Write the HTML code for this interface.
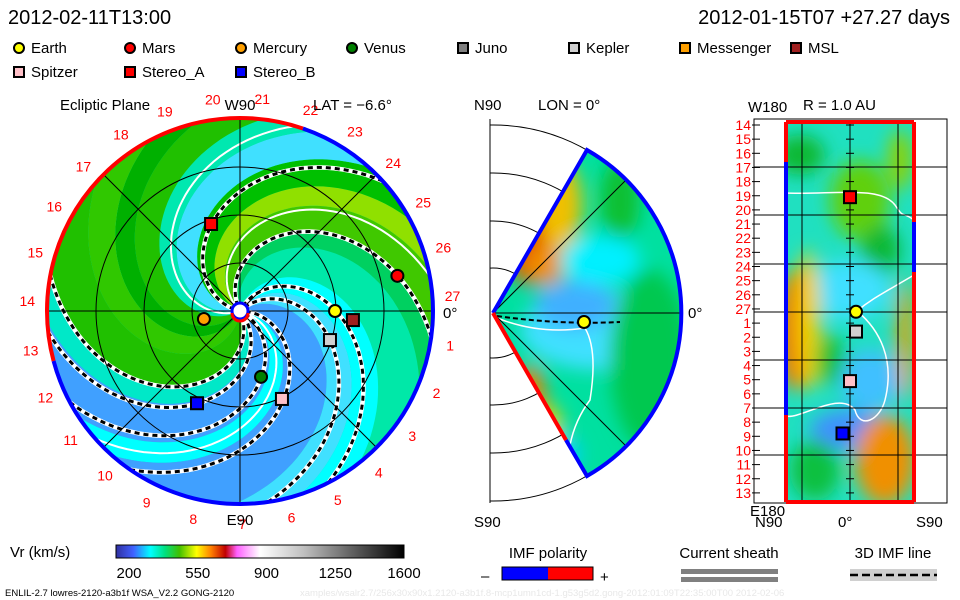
<!DOCTYPE html>
<html><head><meta charset="utf-8"><style>
html,body{margin:0;padding:0;background:#fff;width:960px;height:600px;overflow:hidden}
svg{display:block;font-family:"Liberation Sans",sans-serif}
</style></head><body>
<svg id="s" width="960" height="600" viewBox="0 0 960 600">
<defs>
<clipPath id="cc"><circle cx="240" cy="311" r="193"/></clipPath>
<clipPath id="wc"><path d="M493,313 L587,150 A188,188 0 0 1 587,476 Z"/></clipPath>
<clipPath id="rc"><rect x="786" y="122" width="128" height="380"/></clipPath>
<clipPath id="bx"><rect x="490" y="119" width="300" height="384"/></clipPath>
<filter id="bl" x="-50%" y="-50%" width="200%" height="200%"><feGaussianBlur stdDeviation="9"/></filter>
</defs>
<g font-size="20" fill="#000">
<text x="8" y="24">2012-02-11T13:00</text>
<text x="950" y="24" text-anchor="end">2012-01-15T07 +27.27 days</text>
</g>
<g id="legend" font-size="15"></g>
<g id="left"></g>
<g id="mid"></g>
<g id="right"></g>
<g id="bottom"></g>
</svg>
<script>
// ---- data ----
const bodyNames=["Earth","Mars","Mercury","Venus","Juno","Kepler","Messenger","MSL","Spitzer","Stereo_A","Stereo_B"];
const bodyColors=["#ffff00","#ff0000","#ffa000","#008000","#808080","#d0d0d0","#ffa000","#a02020","#ffc0c8","#ff0000","#0000ff"];
const bodyShapes=["c","c","c","c","s","s","s","s","s","s","s"];
const bodyR=[0.99,1.68,0.385,0.72,null,0.985,null,1.18,1.015,0.955,1.06];
const bodyLon=[0,12.6,192.5,-72.3,null,-17.9,null,-4.6,-64.5,108.4,-115];
const bandStart=[-20,10,25,45,60,80,100,115,135,150,170,200,215,245,260,300,320];
const bandEnd=[10,25,45,60,80,100,115,135,150,170,200,215,245,260,300,320,340];
const bandColor=["#00e8a8","#00d060","#40c800","#90e000","#00c000","#40e0ff","#00e8b0","#20c000","#00b000","#30c800","#20c000","#00e8c8","#40a0ff","#00ffff","#40a0ff","#40e0ff","#00ffff"];
const dashedSpirals=[62,117,167,-49,43,0,-27,-66];
const whiteSpirals=[135,198,-14];
const lonLabels=[1,2,3,4,5,6,7,8,9,10,11,12,13,14,15,16,17,18,19,20,21,22,23,24,25,26,27];
const cbTicks=[200,550,900,1250,1600];
const sideBodies=[9,0,5,8,10];
const sideLat=[0,2,2,0,-2.5];
const sideDay=[19.1,27.2,1.6,5.1,8.8];

const NS="http://www.w3.org/2000/svg";
function mk(tag,attrs,parent,text){const e=document.createElementNS(NS,tag);for(const k in attrs)e.setAttribute(k,attrs[k]);if(text!==undefined)e.textContent=text;parent.appendChild(e);return e;}
const cx=240,cy=311,S=96,R=193,OM=62;
function P(r,a){const t=a*Math.PI/180;return [cx+r*S*Math.cos(t),cy-r*S*Math.sin(t)];}
function marker(g,shape,x,y,col){
  if(shape==="c") return mk("circle",{cx:x,cy:y,r:6,fill:col,stroke:"#000","stroke-width":2},g);
  return mk("rect",{x:x-6,y:y-6,width:12,height:12,fill:col,stroke:"#000","stroke-width":2},g);
}

// legend
const lg=document.getElementById("legend");
bodyNames.forEach((n,i)=>{
  const row=i<8?0:1,col=i<8?i:i-8;
  const x=19+col*111,y=48+row*24;
  const m=marker(lg,bodyShapes[i],x,y,bodyColors[i]);
  if(bodyShapes[i]==="c")m.setAttribute("r",5);else{m.setAttribute("x",x-5);m.setAttribute("y",y-5);m.setAttribute("width",10);m.setAttribute("height",10);}
  
  
  const t=mk("text",{x:x+12,y:y+5},lg,n);
  
  
});

// left panel
const L=document.getElementById("left");
const cg=mk("g",{"clip-path":"url(#cc)"},L);
mk("circle",{cx:cx,cy:cy,r:R,fill:"#00e8b0"},cg);
function spiralPts(a0,r0,r1,atRef){const pts=[];for(let r=r0;r<=r1+1e-9;r+=0.04){pts.push(P(r,a0+OM*(atRef-r)));}return pts;}
bandStart.forEach((a,i)=>{
  const p1=spiralPts(a,0,2.2,1.5),p2=spiralPts(bandEnd[i],0,2.2,1.5).reverse();
  const d="M"+p1.concat(p2).map(p=>p[0].toFixed(1)+","+p[1].toFixed(1)).join("L")+"Z";
  const e=mk("path",{d:d,fill:bandColor[i]},cg);
  
  
});
function spiralD(a0){return "M"+spiralPts(a0,0.06,2.1,0).map(p=>p[0].toFixed(1)+","+p[1].toFixed(1)).join("L");}
whiteSpirals.forEach(a=>{const e=mk("path",{d:spiralD(a),fill:"none",stroke:"#fff","stroke-width":2},cg);
  });
dashedSpirals.forEach(a=>{
  mk("path",{d:spiralD(a),fill:"none",stroke:"#fff","stroke-width":4.5},cg);
  const e=mk("path",{d:spiralD(a),fill:"none",stroke:"#000","stroke-width":3,"stroke-dasharray":"5,4"},cg);
  
});
// grid
[0.5,1,1.5].forEach(r=>mk("circle",{cx:cx,cy:cy,r:r*S,fill:"none",stroke:"#000","stroke-width":1},cg));
[0,45,90,135].forEach(a=>{const p=P(2.05,a),q=P(2.05,a+180);mk("line",{x1:p[0],y1:p[1],x2:q[0],y2:q[1],stroke:"#000","stroke-width":1},cg);});
// rim
function arc(a1,a2,col){const p=P(R/S,a1),q=P(R/S,a2);const large=(a2-a1)>180?1:0;
  return mk("path",{d:`M${p[0]},${p[1]} A${R},${R} 0 ${large} 0 ${q[0]},${q[1]}`,fill:"none",stroke:col,"stroke-width":4},L);}
arc(-165,71,"#0000ff");
arc(71,195,"#ff0000");
// sun
mk("circle",{cx:cx,cy:cy,r:8,fill:"#fff",stroke:"#0000ff","stroke-width":3},L);
mk("path",{d:`M${cx-8},${cy+2} A8,8 0 0 0 ${cx+8},${cy+2}`,fill:"none",stroke:"#ff0000","stroke-width":3},L);
// lon labels
lonLabels.forEach(n=>{const a=4-n*360/27;const p=P(213/S,a);
  const t=mk("text",{x:p[0],y:p[1]+5,"text-anchor":"middle","font-size":14,fill:"#ff0000"},L,String(n));
  });
mk("text",{x:443,y:318,"font-size":15},L,"0°");
mk("text",{x:240,y:110,"text-anchor":"middle","font-size":15},L,"W90");
mk("text",{x:240,y:525,"text-anchor":"middle","font-size":15},L,"E90");
mk("text",{x:60,y:110,"font-size":15},L,"Ecliptic Plane");
mk("text",{x:313,y:110,"font-size":15},L,"LAT = −6.6°");
// bodies
bodyNames.forEach((n,i)=>{if(bodyR[i]===null)return;const p=P(bodyR[i],bodyLon[i]);
  const m=marker(L,bodyShapes[i],p[0],p[1],bodyColors[i]);
  });

// middle panel
const M=document.getElementById("mid");
const ax=493,ay=313;
const bx=mk("g",{"clip-path":"url(#bx)"},M);
const wg=mk("g",{"clip-path":"url(#wc)"},M);
mk("rect",{x:480,y:130,width:220,height:360,fill:"#00e0a0"},wg);
const blobs=[[600,330,80,40,"#40e0ff"],[575,305,40,25,"#40b0ff"],[650,360,40,90,"#00c850"],[530,240,25,45,"#e05000"],[560,205,22,45,"#f0c000"],[545,265,20,20,"#f09000"],[620,200,20,40,"#10c030"],[530,400,15,35,"#f08000"],[548,430,14,25,"#f0d000"],[560,455,20,20,"#00d0ff"],[600,260,40,25,"#00f0ff"]];
const bf=mk("g",{filter:"url(#bl)"},wg);
blobs.forEach(b=>mk("ellipse",{cx:b[0],cy:b[1],rx:b[2],ry:b[3],fill:b[4]},bf));
mk("path",{d:"M497,316 Q560,325 620,322",fill:"none",stroke:"#000","stroke-width":2,"stroke-dasharray":"5,3"},wg);
mk("path",{d:"M497,318 Q540,335 585,328 Q598,350 590,400 Q575,420 570,445",fill:"none",stroke:"#fff","stroke-width":1.5},wg);
[45,92,140,188].forEach(r=>mk("circle",{cx:ax,cy:ay,r:r,fill:"none",stroke:"#000","stroke-width":1},bx));
mk("line",{x1:490,y1:119,x2:490,y2:503,stroke:"#000"},M);
mk("line",{x1:ax,y1:ay,x2:ax+188,y2:ay,stroke:"#000"},M);
mk("line",{x1:ax,y1:ay,x2:ax+133,y2:ay-133,stroke:"#000"},M);
mk("line",{x1:ax,y1:ay,x2:ax+133,y2:ay+133,stroke:"#000"},M);
mk("path",{d:"M493,313 L587,150 A188,188 0 0 1 587,476 L566,440",fill:"none",stroke:"#0000ff","stroke-width":4},M);
mk("line",{x1:493,y1:313,x2:566,y2:440,stroke:"#ff0000","stroke-width":4},M);
marker(M,"c",584,322,"#ffff00");
mk("text",{x:474,y:110,"font-size":15},M,"N90");
mk("text",{x:538,y:110,"font-size":15},M,"LON = 0°");
mk("text",{x:474,y:527,"font-size":15},M,"S90");
mk("text",{x:688,y:318,"font-size":15},M,"0°");

// right panel
const RP=document.getElementById("right");
mk("rect",{x:754,y:119,width:193,height:384,fill:"none",stroke:"#000"},RP);
const rg=mk("g",{"clip-path":"url(#rc)"},RP);
mk("rect",{x:786,y:122,width:128,height:380,fill:"#20e0c0"},rg);
const rf=mk("g",{filter:"url(#bl)"},rg);
const rb=[[800,155,25,20,"#10b830"],[860,200,30,40,"#60d010"],[880,250,20,25,"#10b830"],[850,290,40,30,"#40e0ff"],[795,330,18,60,"#f07000"],[808,320,12,70,"#f0d000"],[830,360,15,25,"#10c030"],[850,430,40,20,"#4090ff"],[885,460,30,45,"#f09000"],[905,340,8,60,"#f0a000"],[870,380,30,30,"#40c0ff"],[900,160,12,30,"#90d000"],[815,470,25,30,"#10c040"]];
rb.forEach(b=>mk("ellipse",{cx:b[0],cy:b[1],rx:b[2],ry:b[3],fill:b[4]},rf));
mk("path",{d:"M786,193 C830,195 880,185 895,205 C905,220 900,210 914,220",fill:"none",stroke:"#fff","stroke-width":1.5},rg);
mk("path",{d:"M914,275 C880,295 870,300 857,311 C880,330 895,360 885,400 C880,420 860,430 855,410 C840,390 800,420 786,416",fill:"none",stroke:"#fff","stroke-width":1.5},rg);
[802,850,898].forEach(x=>mk("line",{x1:x,y1:122,x2:x,y2:502,stroke:"#000"},rg));
[167,215,264,312,360,408,455].forEach(y=>mk("line",{x1:754,y1:y,x2:947,y2:y,stroke:"#000"},RP));
// borders
mk("line",{x1:786,y1:122,x2:914,y2:122,stroke:"#ff0000","stroke-width":4},RP);
mk("line",{x1:786,y1:502,x2:914,y2:502,stroke:"#ff0000","stroke-width":4},RP);
mk("line",{x1:786,y1:122,x2:786,y2:502,stroke:"#ff0000","stroke-width":4},RP);
mk("line",{x1:786,y1:162,x2:786,y2:415,stroke:"#0000ff","stroke-width":4},RP);
mk("line",{x1:914,y1:122,x2:914,y2:502,stroke:"#ff0000","stroke-width":4},RP);
mk("line",{x1:914,y1:222,x2:914,y2:272,stroke:"#0000ff","stroke-width":4},RP);
const dayOrder=[14,15,16,17,18,19,20,21,22,23,24,25,26,27,1,2,3,4,5,6,7,8,9,10,11,12,13];
function dayY(d){const idx=d>=14?d-14:d+13;return 125+idx*14.15;}
dayOrder.forEach(d=>{const y=dayY(d);
  const t=mk("text",{x:751,y:y+5,"text-anchor":"end","font-size":14,fill:"#ff0000"},RP,String(d));
  
  mk("line",{x1:752,y1:y,x2:760,y2:y,stroke:"#000"},RP);
  mk("line",{x1:846,y1:y,x2:854,y2:y,stroke:"#000"},RP);});
sideBodies.forEach((b,i)=>{const x=850+sideLat[i]*3,y=dayY(Math.floor(sideDay[i]))+(sideDay[i]%1)*14.15;
  const m=marker(RP,bodyShapes[b],x,y,bodyColors[b]);
  });
mk("text",{x:748,y:112,"font-size":15},RP,"W180");
mk("text",{x:803,y:110,"font-size":15},RP,"R = 1.0 AU");
mk("text",{x:750,y:516,"font-size":15},RP,"E180");
mk("text",{x:755,y:527,"font-size":15},RP,"N90");
mk("text",{x:838,y:527,"font-size":15},RP,"0°");
mk("text",{x:916,y:527,"font-size":15},RP,"S90");

// bottom
const B=document.getElementById("bottom");
const cbx=116,cbw=288;
const cbStops=[["#3030a0",0],["#4060ff",0.06],["#00ffff",0.12],["#00e080",0.17],["#40c000",0.22],["#ffff00",0.28],["#ff8000",0.33],["#c00000",0.38],["#ff60ff",0.42],["#ffffff",0.5],["#c0c0c0",0.65],["#606060",0.82],["#000000",1]];
const gd=mk("linearGradient",{id:"cbg",x1:0,x2:1,y1:0,y2:0},document.querySelector("defs"));
cbStops.forEach(s=>mk("stop",{offset:s[1],"stop-color":s[0]},gd));
mk("rect",{x:cbx,y:545,width:cbw,height:13,fill:"url(#cbg)",stroke:"#000"},B);
mk("text",{x:10,y:557,"font-size":15},B,"Vr (km/s)");
cbTicks.forEach(v=>{const x=cbx+13+(v-200)/1400*(cbw-13);
  const t=mk("text",{x:x,y:578,"text-anchor":"middle","font-size":15},B,String(v));
  });
mk("text",{x:548,y:558,"text-anchor":"middle","font-size":15},B,"IMF polarity");
mk("rect",{x:502,y:567,width:46,height:13,fill:"#0000ff"},B);
mk("rect",{x:548,y:567,width:45,height:13,fill:"#ff0000"},B);
mk("rect",{x:502,y:567,width:91,height:13,fill:"none",stroke:"#000"},B);
mk("text",{x:481,y:581,"font-size":15},B,"–");
mk("text",{x:600,y:582,"font-size":15},B,"+");
mk("text",{x:729,y:558,"text-anchor":"middle","font-size":15},B,"Current sheath");
mk("rect",{x:681,y:569,width:97,height:5,fill:"#808080"},B);
mk("rect",{x:681,y:577,width:97,height:5,fill:"#808080"},B);
mk("text",{x:893,y:558,"text-anchor":"middle","font-size":15},B,"3D IMF line");
mk("rect",{x:850,y:569,width:87,height:12,fill:"#d0d0d0"},B);
mk("line",{x1:850,y1:575,x2:937,y2:575,stroke:"#000","stroke-width":2.5,"stroke-dasharray":"8,4"},B);
mk("text",{x:5,y:596,"font-size":9.5},B,"ENLIL-2.7 lowres-2120-a3b1f WSA_V2.2 GONG-2120");
mk("text",{x:300,y:596,"font-size":9.5,fill:"#e8e8e8"},B,"xamples/wsalr2.7/256x30x90x1.2120-a3b1f.8-mcp1umn1cd-1.g53g5d2.gong-2012:01:09T22:35:00T00    2012-02-06");
</script>
</body></html>
